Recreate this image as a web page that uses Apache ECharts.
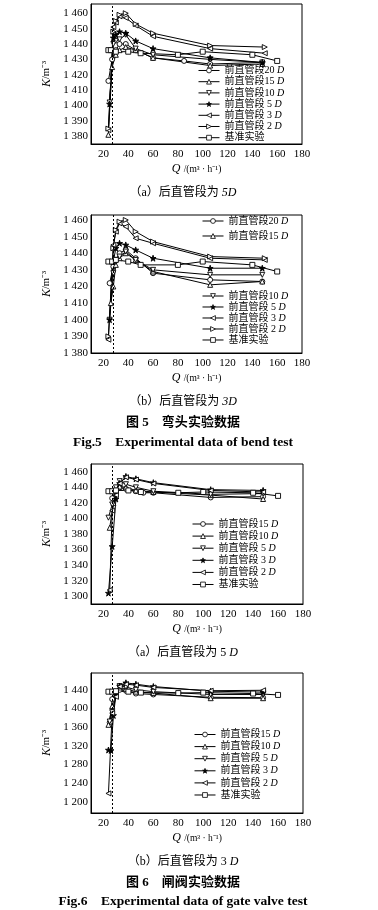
<!DOCTYPE html>
<html><head><meta charset="utf-8">
<script src="https://cdn.jsdelivr.net/npm/echarts@6/dist/echarts.min.js"></script>
<style>
html,body{margin:0;padding:0;background:#fff;}
.c{position:absolute;left:0;top:0;width:378px;height:910px;}
</style>
</head><body>
<div id="p1" class="c"></div>
<div id="p2" class="c"></div>
<div id="p3" class="c"></div>
<div id="p4" class="c"></div>
<script>
// ---------- Fig.5 (a) bend, downstream 5D ----------
const f5a_Q20 = [24, 27, 30, 33, 38, 46, 60, 85, 106, 148];
const f5a_K20 = [1416, 1430, 1436, 1440, 1440, 1436, 1431, 1429, 1427, 1428];
const f5a_Q15 = [24, 27, 30, 33, 38, 46, 60, 106, 148];
const f5a_K15 = [1381, 1425, 1433, 1436, 1438, 1436, 1431, 1426, 1427];
const f5a_Q10 = [25, 28, 30, 33, 38, 46, 60, 106, 148];
const f5a_K10 = [1402, 1440, 1442, 1443, 1446, 1437, 1433, 1430, 1428];
const f5a_Q5 = [25, 28, 30, 33, 38, 46, 60, 106, 148];
const f5a_K5 = [1401, 1444, 1446, 1448, 1447, 1442, 1437, 1431, 1428];
const f5a_Q3 = [24, 28, 30, 33, 38, 46, 60, 106, 150];
const f5a_K3 = [1384, 1451, 1454, 1458, 1457, 1452, 1445, 1437, 1434];
const f5a_Q2 = [24, 28, 30, 33, 38, 46, 60, 106, 150];
const f5a_K2 = [1385, 1448, 1455, 1459, 1460, 1453, 1447, 1439, 1438];
const f5a_Qb = [24, 26, 30, 40, 50, 80, 100, 140, 160];
const f5a_Kb = [1436, 1436, 1435, 1435, 1434, 1433, 1435, 1433, 1429];

// ---------- Fig.5 (b) bend, downstream 3D ----------
const f5b_Q20 = [25, 28, 30, 33, 38, 46, 60, 106, 148];
const f5b_K20 = [1422, 1432, 1436, 1440, 1442, 1437, 1428, 1424, 1423];
const f5b_Q15 = [26, 28, 30, 33, 38, 46, 60, 106, 148];
const f5b_K15 = [1410, 1420, 1433, 1437, 1440, 1436, 1429, 1421, 1423];
const f5b_Q10 = [25, 28, 30, 33, 38, 46, 60, 106, 148];
const f5b_K10 = [1400, 1428, 1436, 1438, 1441, 1436, 1430, 1427, 1427];
const f5b_Q5 = [25, 28, 30, 33, 38, 46, 60, 106, 148];
const f5b_K5 = [1400, 1435, 1443, 1446, 1445, 1442, 1437, 1431, 1431];
const f5b_Q3 = [24, 28, 30, 33, 38, 46, 60, 106, 150];
const f5b_K3 = [1388, 1445, 1453, 1458, 1456, 1449, 1446, 1437, 1436];
const f5b_Q2 = [24, 28, 30, 33, 38, 46, 60, 106, 150];
const f5b_K2 = [1390, 1443, 1454, 1459, 1460, 1453, 1447, 1438, 1437];
const f5b_Qb = [24, 27, 30, 40, 50, 80, 100, 140, 160];
const f5b_Kb = [1435, 1435, 1436, 1435, 1433, 1433, 1435, 1433, 1429];

// ---------- Fig.6 (a) gate valve, downstream 5D ----------
const f6a_Q15 = [27, 30, 33, 38, 46, 52, 60, 106, 148];
const f6a_K15 = [1426, 1435, 1440, 1438, 1435, 1433, 1433, 1427, 1428];
const f6a_Q10 = [25, 28, 30, 33, 38, 46, 60, 106, 148];
const f6a_K10 = [1388, 1420, 1436, 1441, 1440, 1436, 1434, 1430, 1425];
const f6a_Q5 = [24, 27, 30, 33, 38, 46, 60, 106, 148];
const f6a_K5 = [1401, 1418, 1440, 1448, 1444, 1440, 1435, 1431, 1432];
const f6a_Q3 = [24, 27, 30, 33, 38, 46, 60, 106, 148];
const f6a_K3 = [1304, 1364, 1425, 1445, 1454, 1451, 1446, 1437, 1436];
const f6a_Q2 = [25, 27, 30, 33, 38, 46, 60, 106, 148];
const f6a_K2 = [1308, 1410, 1430, 1445, 1453, 1450, 1445, 1436, 1434];
const f6a_Qb = [24, 27, 30, 40, 50, 80, 100, 140, 160];
const f6a_Kb = [1435, 1435, 1436, 1436, 1434, 1433, 1434, 1433, 1429];

// ---------- Fig.6 (b) gate valve, downstream 3D ----------
const f6b_Q15 = [25, 27, 30, 33, 38, 46, 60, 106, 148];
const f6b_K15 = [1370, 1420, 1436, 1440, 1438, 1432, 1430, 1424, 1423];
const f6b_Q10 = [24, 27, 30, 33, 38, 46, 60, 106, 148];
const f6b_K10 = [1365, 1405, 1435, 1445, 1442, 1436, 1433, 1422, 1422];
const f6b_Q5 = [25, 27, 30, 33, 38, 46, 60, 106, 148];
const f6b_K5 = [1372, 1392, 1430, 1448, 1446, 1440, 1436, 1430, 1430];
const f6b_Q3 = [24, 26, 28, 30, 33, 38, 46, 60, 106, 148];
const f6b_K3 = [1311, 1310, 1385, 1430, 1448, 1455, 1452, 1447, 1437, 1435];
const f6b_Q2 = [24, 27, 30, 33, 38, 46, 60, 106, 148];
const f6b_K2 = [1218, 1390, 1425, 1447, 1452, 1450, 1445, 1438, 1439];
const f6b_Qb = [24, 27, 30, 40, 50, 80, 100, 140, 160];
const f6b_Kb = [1436, 1436, 1437, 1436, 1434, 1433, 1434, 1432, 1429];

// x tick labels
const xTickLabels = [20, 40, 60, 80, 100, 120, 140, 160, 180];

const FONT = "'Liberation Serif','Noto Sans CJK SC',serif";
const SHAPES = {
  circle: 'circle',
  up: 'triangle',
  down: 'path://M0,0L10,0L5,9Z',
  star: 'path://M5,0L6.2,3.6L10,3.6L6.9,5.8L8.1,9.5L5,7.2L1.9,9.5L3.1,5.8L0,3.6L3.8,3.6Z',
  left: 'path://M9,0L9,10L0,5Z',
  right: 'path://M0,0L9,5L0,10Z',
  rect: 'rect'
};

function mkSeries(name, q, k, shape, vline) {
  const s = {
    type: 'line', name: name,
    data: q.map((x, i) => [x, k[i]]),
    symbol: SHAPES[shape],
    symbolSize: shape === 'star' ? 6 : 5,
    lineStyle: { color: '#000', width: 1 },
    itemStyle: { color: shape === 'star' ? '#000' : '#fff', borderColor: '#000', borderWidth: 0.9 },
    animation: false, z: 3
  };
  if (vline !== undefined) {
    s.markLine = {
      silent: true, symbol: 'none', animation: false,
      label: { show: false },
      lineStyle: { type: [2, 2], color: '#000', width: 1 },
      data: [{ xAxis: vline }]
    };
  }
  return s;
}

function fmtK(v) {
  const s = String(v);
  return s.length === 4 ? s[0] + ' ' + s.slice(1) : s;
}

function legendFmt(n) {
  if (n.endsWith(' D')) return '{a|' + n.slice(0, -1) + '}{i|D}';
  return '{a|' + n + '}';
}

function mkLegend(names, left, top, gap) {
  return {
    orient: 'vertical', left: left, top: top, padding: 0,
    itemWidth: 21, itemHeight: 6, itemGap: gap,
    data: names, selectedMode: false,
    formatter: legendFmt,
    itemStyle: { borderWidth: 0.8 },
    lineStyle: { width: 1 },
    textStyle: {
      color: '#000',
      rich: {
        a: { fontFamily: FONT, fontSize: 10, color: '#000' },
        i: { fontFamily: FONT, fontSize: 10, fontStyle: 'italic', color: '#000' }
      }
    }
  };
}

function build(id, cfg) {
  const chart = echarts.init(document.getElementById(id));
  const opt = {
    animation: false,
    grid: { left: cfg.grid[0], top: cfg.grid[1], width: cfg.grid[2], height: cfg.grid[3],
            show: true, borderColor: '#000', borderWidth: 1, backgroundColor: 'transparent' },
    xAxis: {
      type: 'value', min: 10, max: 180, interval: 10,
      name: '{i|Q} {n|/(m³ · h⁻¹)}', nameLocation: 'middle', nameGap: 19,
      nameTextStyle: { rich: {
        i: { fontFamily: FONT, fontSize: 12, fontStyle: 'italic', color: '#000' },
        n: { fontFamily: FONT, fontSize: 9.5, color: '#000' } } },
      axisLine: { show: true, lineStyle: { color: '#000', width: 1 } },
      axisTick: { show: false },
      splitLine: { show: false },
      axisLabel: { color: '#000', fontFamily: FONT, fontSize: 11, margin: 5,
        formatter: v => xTickLabels.indexOf(v) >= 0 ? String(v) : '' }
    },
    yAxis: {
      type: 'value', min: cfg.yMin, max: cfg.yMax, interval: cfg.yInt,
      name: '{i|K}{n|/m⁻³}', nameLocation: 'middle', nameGap: 33, nameRotate: 90,
      nameTextStyle: { rich: {
        i: { fontFamily: FONT, fontSize: 12, fontStyle: 'italic', color: '#000' },
        n: { fontFamily: FONT, fontSize: 10.5, color: '#000' } } },
      axisLine: { show: true, lineStyle: { color: '#000', width: 1 } },
      axisTick: { show: false },
      splitLine: { show: false },
      axisLabel: { color: '#000', fontFamily: FONT, fontSize: 11, margin: 3,
        formatter: v => (v % cfg.yStep === 0 ? fmtK(v) : '') }
    },
    legend: cfg.legends,
    series: cfg.series
  };
  if (cfg.graphic) opt.graphic = cfg.graphic;
  chart.setOption(opt);
}

function cap(text, y, size, bold) {
  return {
    type: 'text', x: 183, y: y, silent: true,
    style: {
      text: text, align: 'center', verticalAlign: 'middle', fill: '#000',
      rich: {
        a: { fontFamily: FONT, fontSize: size, fontWeight: bold ? 'bold' : 'normal', fill: '#000' },
        i: { fontFamily: FONT, fontSize: size, fontStyle: 'italic', fontWeight: bold ? 'bold' : 'normal', fill: '#000' }
      }
    }
  };
}

const N = ['前直管段20 D', '前直管段15 D', '前直管段10 D', '前直管段 5 D', '前直管段 3 D', '前直管段 2 D', '基准实验'];

build('p1', {
  grid: [91, 4, 211, 140], yMin: 1375, yMax: 1466, yInt: 5, yStep: 10,
  legends: [mkLegend(N, 198, 65.5, 1.2)],
  series: [
    mkSeries(N[0], f5a_Q20, f5a_K20, 'circle', 27),
    mkSeries(N[1], f5a_Q15, f5a_K15, 'up'),
    mkSeries(N[2], f5a_Q10, f5a_K10, 'down'),
    mkSeries(N[3], f5a_Q5, f5a_K5, 'star'),
    mkSeries(N[4], f5a_Q3, f5a_K3, 'left'),
    mkSeries(N[5], f5a_Q2, f5a_K2, 'right'),
    mkSeries(N[6], f5a_Qb, f5a_Kb, 'rect')
  ],
  graphic: [
    cap('{a|（a）后直管段为 }{i|5D}', 193, 12, false),
    cap('{a|（b）后直管段为 }{i|3D}', 402, 12, false),
    cap('{a|图 5    弯头实验数据}', 423, 13, true),
    cap('{a|Fig.5    Experimental data of bend test}', 443, 13.5, true),
    cap('{a|（a）后直管段为 5 }{i|D}', 653, 12, false),
    cap('{a|（b）后直管段为 3 }{i|D}', 862, 12, false),
    cap('{a|图 6    闸阀实验数据}', 883, 13, true),
    cap('{a|Fig.6    Experimental data of gate valve test}', 902, 13.5, true)
  ]
});

build('p2', {
  grid: [91, 215, 211, 138], yMin: 1380, yMax: 1463, yInt: 10, yStep: 10,
  legends: [mkLegend([N[0], N[1]], 202, 216, 5), mkLegend([N[2], N[3], N[4], N[5], N[6]], 202, 291, 1)],
  series: [
    mkSeries(N[0], f5b_Q20, f5b_K20, 'circle', 28),
    mkSeries(N[1], f5b_Q15, f5b_K15, 'up'),
    mkSeries(N[2], f5b_Q10, f5b_K10, 'down'),
    mkSeries(N[3], f5b_Q5, f5b_K5, 'star'),
    mkSeries(N[4], f5b_Q3, f5b_K3, 'left'),
    mkSeries(N[5], f5b_Q2, f5b_K2, 'right'),
    mkSeries(N[6], f5b_Qb, f5b_Kb, 'rect')
  ]
});

const M = ['前直管段15 D', '前直管段10 D', '前直管段 5 D', '前直管段 3 D', '前直管段 2 D', '基准实验'];

build('p3', {
  grid: [91, 464, 212, 140], yMin: 1290, yMax: 1470, yInt: 10, yStep: 20,
  legends: [mkLegend(M, 192, 519, 2.1)],
  series: [
    mkSeries(M[0], f6a_Q15, f6a_K15, 'circle', 27),
    mkSeries(M[1], f6a_Q10, f6a_K10, 'up'),
    mkSeries(M[2], f6a_Q5, f6a_K5, 'down'),
    mkSeries(M[3], f6a_Q3, f6a_K3, 'star'),
    mkSeries(M[4], f6a_Q2, f6a_K2, 'left'),
    mkSeries(M[5], f6a_Qb, f6a_Kb, 'rect')
  ]
});

build('p4', {
  grid: [91, 673, 212, 140], yMin: 1176, yMax: 1476, yInt: 8, yStep: 40,
  legends: [mkLegend(M, 194, 729.5, 2.1)],
  series: [
    mkSeries(M[0], f6b_Q15, f6b_K15, 'circle', 27),
    mkSeries(M[1], f6b_Q10, f6b_K10, 'up'),
    mkSeries(M[2], f6b_Q5, f6b_K5, 'down'),
    mkSeries(M[3], f6b_Q3, f6b_K3, 'star'),
    mkSeries(M[4], f6b_Q2, f6b_K2, 'left'),
    mkSeries(M[5], f6b_Qb, f6b_Kb, 'rect')
  ]
});
</script>
</body></html>
